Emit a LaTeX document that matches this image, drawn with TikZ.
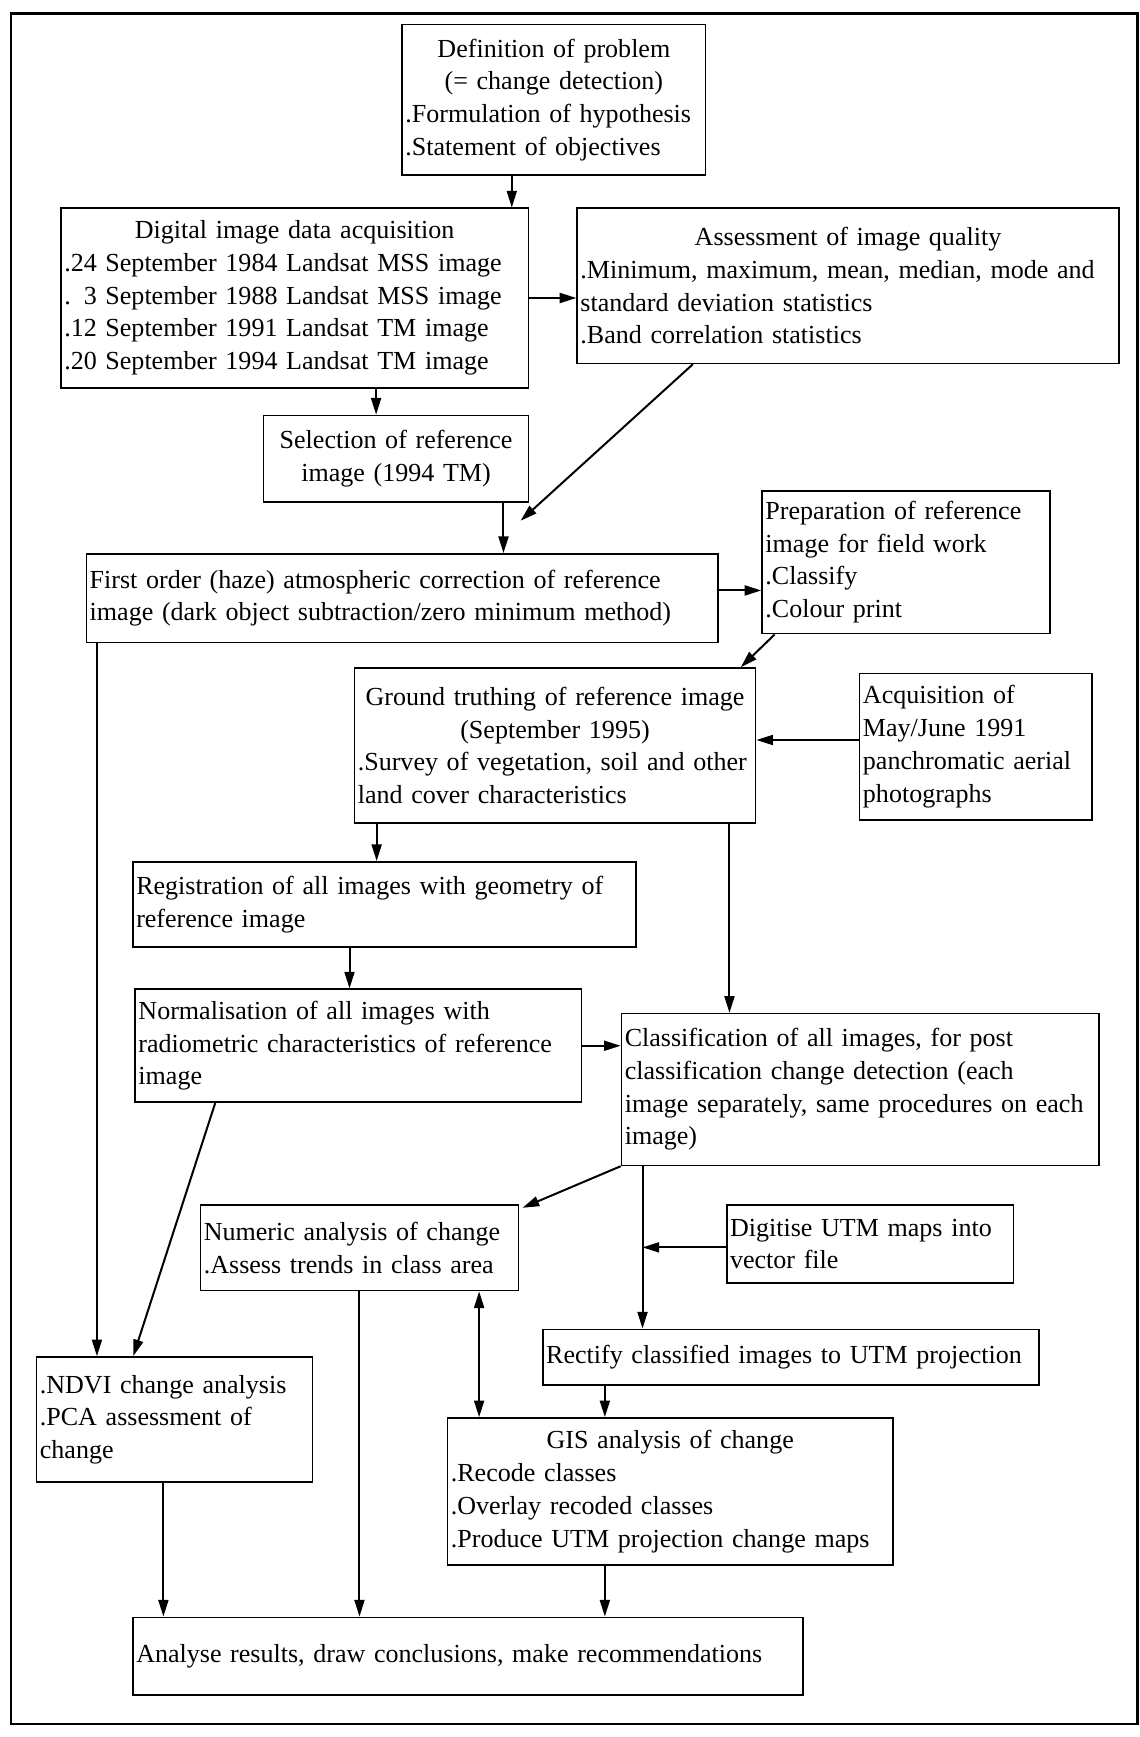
\documentclass[tikz,border=0pt]{standalone}
\usepackage{fontspec}
\setmainfont{Liberation Serif}
\usepackage{tikz}
\usetikzlibrary{arrows.meta,positioning,calc}

\newcommand{\ctr}[1]{\makebox[\linewidth][c]{#1}}

\begin{document}
\begin{tikzpicture}[x=1pt,y=-1pt,
    font=\fontsize{23.5}{29.5}\selectfont,
    box/.style={draw, line width=1.5pt, inner xsep=3pt, inner ysep=2pt, align=left},
    arr/.style={line width=1.8pt, -{Triangle[length=15pt,width=9pt]}}]
  \useasboundingbox (0,0) rectangle (1029,1568);
  \draw[line width=2.2pt] (10,12) rectangle (1027,1556);

  \node[box, text width=268pt, minimum height=136pt] (def) at (500,90)
    {\ctr{Definition of problem}\\ \ctr{(= change detection)}\\ .Formulation of hypothesis\\ .Statement of objectives};
  \node[box, text width=416pt, minimum height=162pt] (acq) at (266,269)
    {\ctr{Digital image data acquisition}\\ .24 September 1984 Landsat MSS image\\ .\hphantom{2}3 September 1988 Landsat MSS image\\ .12 September 1991 Landsat TM image\\ .20 September 1994 Landsat TM image};
  \node[box, text width=483pt, minimum height=140pt] (assess) at (765.5,258)
    {\ctr{Assessment of image quality}\\ .Minimum, maximum, mean, median, mode and\\ standard deviation statistics\\ .Band correlation statistics};
  \node[box, align=center, text width=233pt, minimum height=78pt] (sel) at (357.5,414)
    {Selection of reference\\ image (1994 TM)};
  \node[box, text width=564pt, minimum height=80pt] (first) at (363,540)
    {First order (haze) atmospheric correction of reference\\ image (dark object subtraction/zero minimum method)};
  \node[box, text width=254pt, minimum height=129pt] (prep) at (818,507.5)
    {Preparation of reference\\ image for field work\\ .Classify\\ .Colour print};
  \node[box, text width=356pt, minimum height=140pt] (ground) at (501,673)
    {\ctr{Ground truthing of reference image}\\ \ctr{(September 1995)}\\ \mbox{.Survey of vegetation, soil and other}\\ land cover characteristics};
  \node[box, text width=204pt, minimum height=132pt] (aerial) at (881,674)
    {Acquisition of\\ May/June 1991\\ panchromatic aerial\\ photographs};
  \node[box, text width=448pt, minimum height=77pt] (reg) at (347,816.5)
    {Registration of all images with geometry of\\ reference image};
  \node[box, text width=397pt, minimum height=102pt] (norm) at (323.5,944)
    {Normalisation of all images with\\ radiometric characteristics of reference\\ image};
  \node[box, text width=425pt, minimum height=137pt] (class) at (776.5,983.5)
    {Classification of all images, for post\\ classification change detection (each\\ \mbox{image separately, same procedures on each}\\ image)};
  \node[box, text width=281pt, minimum height=77pt] (num) at (324.5,1126.5)
    {Numeric analysis of change\\ .Assess trends in class area};
  \node[box, text width=253pt, minimum height=70pt] (digit) at (785.5,1123)
    {Digitise UTM maps into\\ vector file};
  \node[box, text width=243pt, minimum height=113pt] (ndvi) at (157.5,1281.5)
    {.NDVI change analysis\\ .PCA assessment of\\ change};
  \node[box, text width=442pt, minimum height=50pt] (rect) at (714,1225)
    {Rectify classified images to UTM projection};
  \node[box, text width=396pt, minimum height=133pt] (gis) at (605,1346.5)
    {\ctr{GIS analysis of change}\\ .Recode classes\\ .Overlay recoded classes\\ .Produce UTM projection change maps};
  \node[box, text width=599pt, minimum height=70pt] (anal) at (422.5,1495)
    {Analyse results, draw conclusions, make recommendations\vphantom{g}\\[-6pt]};

  \coordinate (haze) at (470,470);
  \coordinate (rectin) at ([xshift=-134pt]rect.north);

  % top part
  \draw[arr] ([xshift=-38pt]def.south) -- ([xshift=-38pt]def.south |- acq.north);
  \draw[arr] ([xshift=-18pt]sel.north |- acq.south) -- ([xshift=-18pt]sel.north);
  \draw[arr] (acq.east) -- (acq.east -| assess.west);
  \draw[arr] ([xshift=-140pt]assess.south) -- (haze);
  \draw[arr] ([xshift=97pt]sel.south) -- ([xshift=97pt]sel.south |- first.north);
  \draw[arr] ([yshift=7pt]first.east) -- ([yshift=7pt]first.east -| prep.west);
  \draw[arr] ([xshift=12pt]prep.south west) -- ([xshift=-14pt]ground.north east);
  \draw[arr] ([yshift=6pt]aerial.west) -- ([yshift=6pt]aerial.west -| ground.east);

  % middle part
  \draw[arr] ([xshift=-7pt]reg.north |- ground.south) -- ([xshift=-7pt]reg.north);
  \draw[arr] ([xshift=-118pt]class.north |- ground.south) -- ([xshift=-118pt]class.north);
  \draw[arr] ([xshift=-70pt]ndvi.north |- first.south) -- ([xshift=-70pt]ndvi.north);
  \draw[arr] ([xshift=-8pt]norm.north |- reg.south) -- ([xshift=-8pt]norm.north);
  \draw[arr] ([xshift=73pt]norm.south west) -- ([xshift=88pt]ndvi.north west);
  \draw[arr] (norm.east) -- (norm.east -| class.west);
  \draw[arr] (class.south west) -- ([xshift=3pt,yshift=-3pt]num.north east);
  \draw[arr] (rectin |- class.south) -- (rectin);
  \draw[arr] ([yshift=-3pt]digit.west) -- ([yshift=-3pt]digit.west -| rectin);

  % bottom part
  \draw[arr] (num.south) -- (num.south |- anal.north);
  \draw[line width=1.8pt, {Triangle[length=15pt,width=9pt]}-{Triangle[length=15pt,width=9pt]}]
    ([xshift=108pt]num.south) -- ([xshift=108pt]num.south |- gis.north);
  \draw[arr] ([xshift=-59pt]gis.north |- rect.south) -- ([xshift=-59pt]gis.north);
  \draw[arr] ([xshift=-10pt]ndvi.south) -- ([xshift=-10pt]ndvi.south |- anal.north);
  \draw[arr] ([xshift=-59pt]gis.south) -- ([xshift=-59pt]gis.south |- anal.north);
\end{tikzpicture}
\end{document}
